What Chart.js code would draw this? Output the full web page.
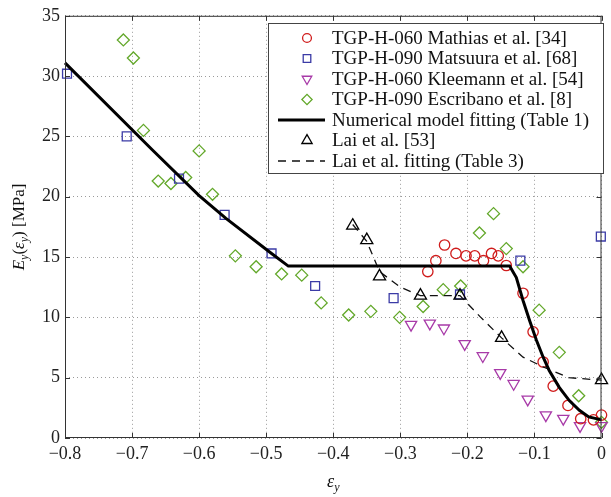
<!DOCTYPE html>
<html>
<head>
<meta charset="utf-8">
<script src="https://cdn.jsdelivr.net/npm/chart.js@4"></script>
<style>
  html, body { margin: 0; padding: 0; background: #fff; }
  #wrap { width: 611px; height: 497px; }
</style>
</head>
<body>
<div id="wrap"><canvas id="chart" width="611" height="497"></canvas></div>
<script>
// Datos experimentales
const mathiasX = [-0.259, -0.247, -0.234, -0.217, -0.202, -0.189, -0.176, -0.164, -0.154, -0.142, -0.117, -0.102, -0.087, -0.072, -0.050, -0.031, -0.012, 0.0];
const mathiasY = [13.8, 14.7, 16.0, 15.3, 15.1, 15.1, 14.7, 15.3, 15.1, 14.3, 12.0, 8.8, 6.3, 4.3, 2.7, 1.6, 1.5, 1.9];

const matsuuraX = [-0.797, -0.708, -0.630, -0.562, -0.492, -0.427, -0.310, -0.211, -0.121, -0.001];
const matsuuraY = [30.2, 25.0, 21.5, 18.5, 15.3, 12.6, 11.6, 11.9, 14.7, 16.7];

const kleemannX = [-0.284, -0.256, -0.235, -0.204, -0.177, -0.151, -0.131, -0.110, -0.083, -0.057, -0.032, 0.0];
const kleemannY = [9.4, 9.5, 9.1, 7.8, 6.8, 5.4, 4.5, 3.2, 1.9, 1.6, 1.0, 1.0];

const escribanoX = [-0.713, -0.698, -0.683, -0.661, -0.642, -0.620, -0.600, -0.580, -0.546, -0.515, -0.477, -0.447, -0.418, -0.377, -0.344, -0.301, -0.266, -0.236, -0.210, -0.182, -0.161, -0.142, -0.117, -0.093, -0.063, -0.034, 0.0];
const escribanoY = [33.0, 31.5, 25.5, 21.3, 21.1, 21.6, 23.8, 20.2, 15.1, 14.2, 13.6, 13.5, 11.2, 10.2, 10.5, 10.0, 10.9, 12.3, 12.6, 17.0, 18.6, 15.7, 14.2, 10.6, 7.1, 3.5, 1.3];

const laiX = [-0.371, -0.350, -0.331, -0.270, -0.211, -0.149, 0.0];
const laiY = [17.6, 16.4, 13.4, 11.8, 11.8, 8.3, 4.8];

// Curvas de ajuste
const modelX = [-0.8, -0.67, -0.6, -0.56, -0.492, -0.467, -0.137, -0.127, -0.117, -0.107, -0.097, -0.087, -0.078, -0.063, -0.048, -0.033, -0.019, 0.0];
const modelY = [31.1, 23.9, 20.1, 18.2, 15.3, 14.25, 14.25, 13.3, 11.4, 9.7, 8.1, 6.7, 5.6, 4.2, 3.1, 2.3, 1.75, 1.5];

const laiFitX = [-0.371, -0.350, -0.331, -0.300, -0.270, -0.211, -0.180, -0.149, -0.117, -0.087, -0.049, 0.0];
const laiFitY = [17.7, 16.3, 13.8, 12.5, 11.8, 11.8, 10.0, 8.3, 6.7, 5.9, 5.0, 4.8];

// Ejes
const xTicks = [-0.8, -0.7, -0.6, -0.5, -0.4, -0.3, -0.2, -0.1, 0];
const yTicks = [0, 5, 10, 15, 20, 25, 30, 35];

const labels = [
  "TGP-H-060 Mathias et al. [34]",
  "TGP-H-090 Matsuura et al. [68]",
  "TGP-H-060 Kleemann et al. [54]",
  "TGP-H-090 Escribano et al. [8]",
  "Numerical model fitting (Table 1)",
  "Lai et al. [53]",
  "Lai et al. fitting (Table 3)"
];

const pts = (xs, ys) => xs.map((x, i) => ({ x: x, y: ys[i] }));
const SERIF = "'Liberation Serif', 'DejaVu Serif', serif";

function markerSet(label, data, style, color, radius, rotation) {
  return {
    label: label, data: data, showLine: false,
    pointStyle: style, pointRadius: radius, pointRotation: rotation || 0,
    pointBorderColor: color, pointBackgroundColor: 'rgba(0,0,0,0)',
    pointBorderWidth: 1.3, pointHoverRadius: radius, clip: false
  };
}

const datasets = [
  {
    label: labels[4], data: pts(modelX, modelY), showLine: true,
    borderColor: '#000', borderWidth: 3, pointRadius: 0, clip: false
  },
  {
    label: labels[6], data: pts(laiFitX, laiFitY), showLine: true,
    borderColor: '#111', borderWidth: 1.3, borderDash: [8, 6], pointRadius: 0, clip: false
  },
  markerSet(labels[5], pts(laiX, laiY), 'triangle', '#000', 7),
  markerSet(labels[0], pts(mathiasX, mathiasY), 'circle', '#d01c1c', 5.2),
  markerSet(labels[1], pts(matsuuraX, matsuuraY), 'rect', '#3b3ba6', 6.3),
  markerSet(labels[2], pts(kleemannX, kleemannY), 'triangle', '#a83aa8', 6.5, 180),
  markerSet(labels[3], pts(escribanoX, escribanoY), 'rectRot', '#63a82a', 6)
];

// Caja, marcas interiores, leyenda y títulos de ejes
const decor = {
  id: 'decor',
  afterDraw(chart) {
    const ctx = chart.ctx;
    const a = chart.chartArea;
    const xs = chart.scales.x, ys = chart.scales.y;
    ctx.save();
    ctx.strokeStyle = '#333';
    ctx.lineWidth = 1;
    ctx.strokeRect(a.left + 0.5, a.top + 0.5, a.right - a.left - 1, a.bottom - a.top - 1);
    ctx.beginPath();
    xTicks.forEach(v => {
      const p = Math.round(xs.getPixelForValue(v)) + 0.5;
      ctx.moveTo(p, a.bottom); ctx.lineTo(p, a.bottom - 5);
      ctx.moveTo(p, a.top); ctx.lineTo(p, a.top + 5);
    });
    yTicks.forEach(v => {
      const p = Math.round(ys.getPixelForValue(v)) + 0.5;
      ctx.moveTo(a.left, p); ctx.lineTo(a.left + 5, p);
      ctx.moveTo(a.right, p); ctx.lineTo(a.right - 5, p);
    });
    ctx.stroke();

    // leyenda
    const lx = 268, ly = 23, lw = 335, lh = 150;
    ctx.fillStyle = '#fff';
    ctx.fillRect(lx, ly, lw, lh);
    ctx.strokeStyle = '#444';
    ctx.strokeRect(lx + 0.5, ly + 0.5, lw, lh);
    const order = [3, 4, 5, 6, 0, 2, 1];
    ctx.font = '19px ' + SERIF;
    ctx.textBaseline = 'middle';
    ctx.textAlign = 'left';
    order.forEach((di, row) => {
      const ds = chart.data.datasets[di];
      const cy = 38 + row * 20.5;
      if (ds.showLine) {
        ctx.save();
        ctx.strokeStyle = ds.borderColor;
        ctx.lineWidth = ds.borderWidth;
        ctx.setLineDash(ds.borderDash || []);
        ctx.beginPath(); ctx.moveTo(278, cy); ctx.lineTo(325, cy); ctx.stroke();
        ctx.restore();
      } else {
        ctx.save();
        ctx.strokeStyle = ds.pointBorderColor;
        ctx.fillStyle = 'rgba(0,0,0,0)';
        ctx.lineWidth = ds.pointBorderWidth;
        Chart.helpers.drawPoint(ctx, {
          pointStyle: ds.pointStyle, radius: ds.pointRadius * 0.85,
          rotation: ds.pointRotation, borderWidth: ds.pointBorderWidth
        }, 307, cy);
        ctx.restore();
      }
      ctx.fillStyle = '#111';
      ctx.fillText(ds.label, 332, cy + 1);
    });

    // título eje x
    ctx.fillStyle = '#111';
    ctx.textBaseline = 'alphabetic';
    const cx = (a.left + a.right) / 2;
    ctx.font = 'italic 18px ' + SERIF;
    const wE = ctx.measureText('ε').width;
    ctx.font = 'italic 12px ' + SERIF;
    const wS = ctx.measureText('y').width;
    let x0 = cx - (wE + wS) / 2;
    ctx.font = 'italic 18px ' + SERIF;
    ctx.fillText('ε', x0, 487);
    ctx.font = 'italic 12px ' + SERIF;
    ctx.fillText('y', x0 + wE, 491);

    // título eje y
    ctx.save();
    ctx.translate(24, (a.top + a.bottom) / 2);
    ctx.rotate(-Math.PI / 2);
    const parts = [
      ['E', 'italic 17px', 0], ['y', 'italic 12px', 4], ['(', '17px', 0],
      ['ε', 'italic 17px', 0], ['y', 'italic 12px', 4], [') [MPa]', '17px', 0]
    ];
    let total = 0;
    parts.forEach(p => { ctx.font = p[1] + ' ' + SERIF; total += ctx.measureText(p[0]).width; });
    let px = -total / 2;
    parts.forEach(p => {
      ctx.font = p[1] + ' ' + SERIF;
      ctx.fillText(p[0], px, p[2]);
      px += ctx.measureText(p[0]).width;
    });
    ctx.restore();
    ctx.restore();
  }
};

const fmtMinus = v => (v === 0 ? '0' : (v < 0 ? '\u2212' : '') + Math.abs(v).toFixed(1));

new Chart(document.getElementById('chart'), {
  type: 'scatter',
  data: { datasets: datasets },
  options: {
    responsive: false,
    animation: false,
    layout: { padding: { top: 13, right: 5, left: 0, bottom: 0 } },
    plugins: { legend: { display: false }, tooltip: { enabled: false } },
    scales: {
      x: {
        type: 'linear', min: -0.8, max: 0,
        afterFit(s) { s.height = 59; },
        afterBuildTicks(s) { s.ticks = xTicks.map(v => ({ value: v })); },
        grid: { color: '#9a9a9a', lineWidth: 1, drawTicks: false },
        border: { display: false, dash: [1, 3] },
        ticks: {
          color: '#222', padding: 5, maxRotation: 0, autoSkip: false,
          font: { family: SERIF, size: 18 },
          callback: v => fmtMinus(v)
        }
      },
      y: {
        type: 'linear', min: 0, max: 35,
        afterFit(s) { s.width = 65; },
        afterBuildTicks(s) { s.ticks = yTicks.map(v => ({ value: v })); },
        grid: { color: '#9a9a9a', lineWidth: 1, drawTicks: false },
        border: { display: false, dash: [1, 3] },
        ticks: {
          color: '#222', padding: 5, autoSkip: false,
          font: { family: SERIF, size: 18 },
          callback: v => String(v)
        }
      }
    }
  },
  plugins: [decor]
});
</script>
</body>
</html>
